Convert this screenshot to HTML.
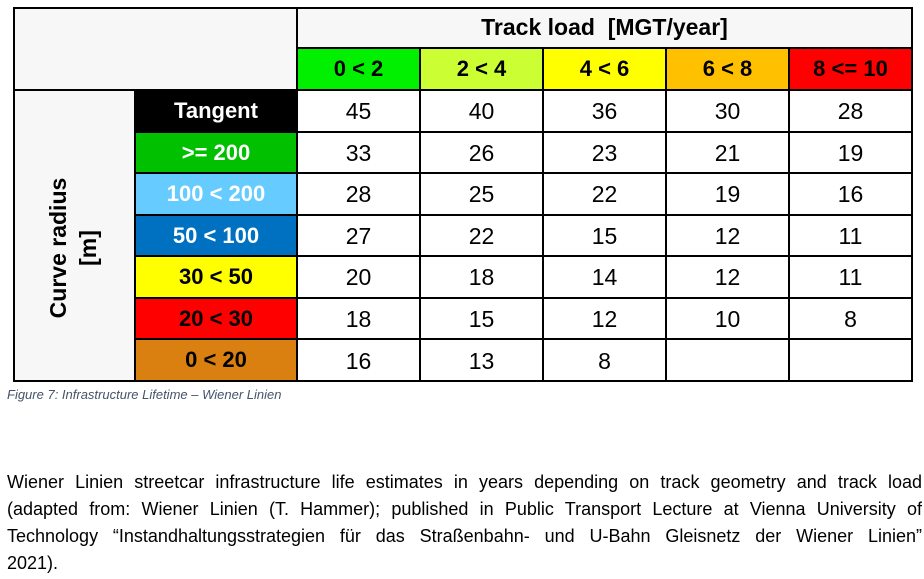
<!DOCTYPE html>
<html><head><meta charset="utf-8"><style>
body{margin:0;width:924px;height:579px;background:#fff;position:relative;overflow:hidden;font-family:"Liberation Sans",sans-serif}
.c{position:absolute;box-sizing:border-box;display:flex;align-items:center;justify-content:center;font-size:23px;color:#000}
.b{font-weight:bold;font-size:22px}
.line{position:absolute;background:#000}
.p{position:absolute;left:7px;width:915px;font-size:18px;line-height:27px;text-align:justify;text-align-last:justify;color:#000;white-space:nowrap}
</style></head><body>
<div style="position:absolute;left:13px;top:7px;width:899px;height:83px;background:#f7f7f7"></div>
<div style="position:absolute;left:13px;top:90px;width:122px;height:291px;background:#f7f7f7"></div>
<div class="c b" style="left:297px;top:7px;width:615px;height:41px;font-size:23px">Track load&nbsp; [MGT/year]</div>
<div class="c b" style="left:297px;top:48px;width:123px;height:42px;background:#00f000">0 &lt; 2</div>
<div class="c b" style="left:420px;top:48px;width:123px;height:42px;background:#ccff33">2 &lt; 4</div>
<div class="c b" style="left:543px;top:48px;width:123px;height:42px;background:#ffff00">4 &lt; 6</div>
<div class="c b" style="left:666px;top:48px;width:123px;height:42px;background:#ffc000">6 &lt; 8</div>
<div class="c b" style="left:789px;top:48px;width:123px;height:42px;background:#ff0000">8 &lt;= 10</div>
<div class="c b" style="left:135px;top:90px;width:162px;height:42px;background:#000;color:#fff">Tangent</div>
<div class="c b" style="left:135px;top:132px;width:162px;height:41px;background:#00c000;color:#fff">&gt;= 200</div>
<div class="c b" style="left:135px;top:173px;width:162px;height:42px;background:#66ccff;color:#fff">100 &lt; 200</div>
<div class="c b" style="left:135px;top:215px;width:162px;height:41px;background:#0070c0;color:#fff">50 &lt; 100</div>
<div class="c b" style="left:135px;top:256px;width:162px;height:42px;background:#ffff00">30 &lt; 50</div>
<div class="c b" style="left:135px;top:298px;width:162px;height:41px;background:#ff0000">20 &lt; 30</div>
<div class="c b" style="left:135px;top:339px;width:162px;height:42px;background:#d98010">0 &lt; 20</div>
<div class="c b" style="left:-72px;top:218px;width:290px;height:60px;transform:rotate(-90deg);flex-direction:column;line-height:30px;font-size:23px;text-align:center">Curve radius<br>[m]</div>
<div id="g"></div>
<div class="line" style="left:13px;top:7px;width:899px;height:2px"></div>
<div class="line" style="left:13px;top:7px;width:2px;height:375px"></div>
<div class="line" style="left:911px;top:7px;width:2px;height:375px"></div>
<div class="line" style="left:13px;top:380px;width:899px;height:2px"></div>
<div class="line" style="left:296px;top:7px;width:2px;height:375px"></div>
<div class="line" style="left:134px;top:89px;width:2px;height:293px"></div>
<div class="line" style="left:297px;top:47px;width:615px;height:2px"></div>
<div class="line" style="left:13px;top:89px;width:899px;height:2px"></div>
<script>
var d=[[45,40,36,30,28],[33,26,23,21,19],[28,25,22,19,16],[27,22,15,12,11],[20,18,14,12,11],[18,15,12,10,8],[16,13,8,"",""]];
var rt=[90,131.5,173,214.5,256,297.5,339,381],cx=[297,420,543,666,789,912],h="";
for(var r=0;r<7;r++){for(var c=0;c<5;c++){h+='<div class="c" style="left:'+cx[c]+'px;top:'+(rt[r]+1)+'px;width:123px;height:'+(rt[r+1]-rt[r])+'px">'+d[r][c]+'</div>';}
if(r>0)h+='<div class="line" style="left:135px;top:'+(rt[r]-1)+'px;width:777px;height:2px"></div>';}
for(var c=1;c<5;c++)h+='<div class="line" style="left:'+(cx[c]-1)+'px;top:48px;width:2px;height:333px"></div>';
document.getElementById("g").innerHTML=h;
</script>
<div style="position:absolute;left:7px;top:387px;font-size:13px;font-style:italic;color:#44546a">Figure 7: Infrastructure Lifetime – Wiener Linien</div>
<div class="p" style="top:469px">Wiener Linien streetcar infrastructure life estimates in years depending on track geometry and track load</div>
<div class="p" style="top:496px">(adapted from: Wiener Linien (T. Hammer); published in Public Transport Lecture at Vienna University of</div>
<div class="p" style="top:523px">Technology “Instandhaltungsstrategien für das Straßenbahn- und U-Bahn Gleisnetz der Wiener Linien”</div>
<div class="p" style="top:550px;text-align-last:left">2021).</div>
</body></html>
